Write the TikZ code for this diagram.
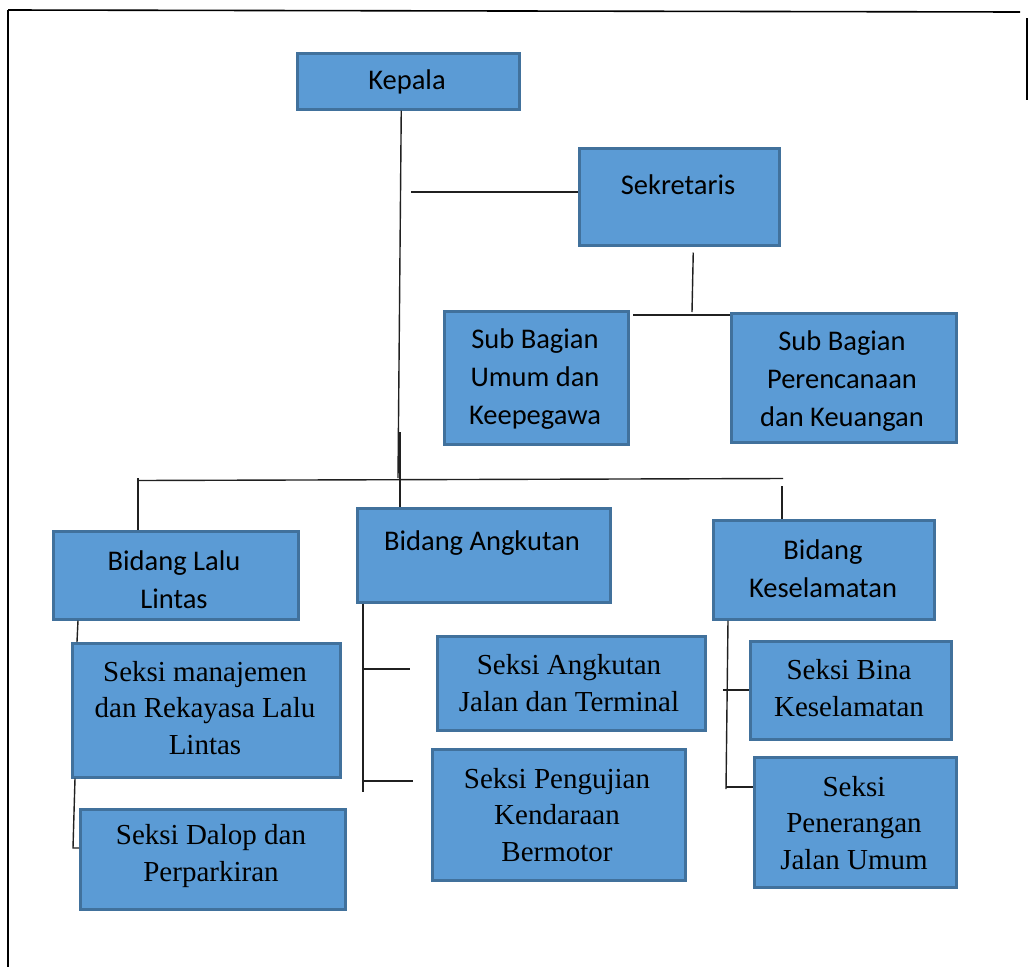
\documentclass[tikz,border=0pt]{standalone}
\usepackage{fontspec}
\newfontfamily\calib{Carlito}
\newfontfamily\tnr{Liberation Serif}
\definecolor{boxfill}{HTML}{5B9BD5}
\definecolor{boxline}{HTML}{41719C}
\definecolor{linecol}{HTML}{202020}
\begin{document}
\begin{tikzpicture}[x=1pt,y=-1pt,
  box/.style={draw=boxline, fill=boxfill, line width=2.5pt, inner sep=0pt, anchor=north west},
  sanstxt/.style={font=\calib\fontsize{28.5}{38}\selectfont, align=center, inner sep=0pt},
  seriftxt/.style={font=\tnr\fontsize{29}{36.5}\selectfont, align=center, inner sep=0pt},
  conn/.style={draw=linecol, line width=1.4pt},
  framel/.style={draw=black, line width=1.6pt}]
\useasboundingbox (0,0) rectangle (1030,967);

% frame
\coordinate (f1) at (8,10);
\coordinate (f2) at (1020,12);
\coordinate (f3) at (8,967);
\coordinate (f4) at (1027,18);
\coordinate (f5) at (1027,100);
\draw[framel] (f1) -- (f2);
\draw[framel, line width=1.2pt] (f1) -- (f3);
\draw[framel, line width=1.2pt] (f4) -- (f5);

% boxes
\node[box, minimum width=222pt, minimum height=56pt] (kepala) at (296,52) {};
\node[box, minimum width=200pt, minimum height=97pt] (sek) at (578,147) {};
\node[box, minimum width=184pt, minimum height=133pt] (sbu) at (443,310) {};
\node[box, minimum width=225pt, minimum height=129pt] (sbp) at (730,312) {};
\node[box, minimum width=245pt, minimum height=88pt] (bll) at (52,530) {};
\node[box, minimum width=253pt, minimum height=94pt] (ba) at (356,507) {};
\node[box, minimum width=221pt, minimum height=99pt] (bk) at (712,519) {};
\node[box, minimum width=268pt, minimum height=134pt] (smr) at (71,642) {};
\node[box, minimum width=265pt, minimum height=100pt] (sdp) at (79,808) {};
\node[box, minimum width=268pt, minimum height=94pt] (saj) at (436,635) {};
\node[box, minimum width=253pt, minimum height=131pt] (spk) at (431,748) {};
\node[box, minimum width=201pt, minimum height=98pt] (sbk) at (749,640) {};
\node[box, minimum width=202pt, minimum height=130pt] (spj) at (753,756) {};

% texts
\node[sanstxt] (kepala-t) at (407,82) {Kepala};
\node[sanstxt] (sek-t) at (678,185) {Sekretaris};
\node[sanstxt] (sbu-t) at (535,379) {Sub Bagian\\Umum dan\\Keepegawa};
\node[sanstxt] (sbp-t) at (842,381) {Sub Bagian\\Perencanaan\\dan Keuangan};
\node[sanstxt] (bll-t) at (174,580) {Bidang Lalu\\Lintas};
\node[sanstxt] (ba-t) at (482,543) {Bidang Angkutan};
\node[sanstxt] (bk-t) at (823,569) {Bidang\\Keselamatan};
\node[seriftxt] (smr-t) at (205,708) {Seksi manajemen\\dan Rekayasa Lalu\\Lintas};
\node[seriftxt] (sdp-t) at (211,856) {Seksi Dalop dan\\Perparkiran};
\node[seriftxt] (saj-t) at (569,683) {Seksi Angkutan\\Jalan dan Terminal};
\node[seriftxt] (spk-t) at (557,815) {Seksi Pengujian\\Kendaraan\\Bermotor};
\node[seriftxt] (sbk-t) at (849,688) {Seksi Bina\\Keselamatan};
\node[seriftxt] (spj-t) at (854,823) {Seksi\\Penerangan\\Jalan Umum};

% connectors: top part
\coordinate (kbot) at (398,478);
\draw[conn] ([xshift=-7pt]kepala.south) -- (kbot);
\coordinate (sl) at (411,192);
\draw[conn] (sl) -- (sek.west |- sl);
\coordinate (sd) at (692,312);
\draw[conn] ([shift={(14,6)}]sek.south) -- (sd);
\coordinate (sh) at (633,315);
\draw[conn] (sh) -- (sbp.west |- sh);

% main horizontal
\coordinate (hl) at (137,480.5);
\coordinate (hr) at (783,478.5);
\draw[conn] (hl) -- (hr);
\coordinate (bt) at (400,432);
\draw[conn] (bt) -- (ba.north -| bt);
\coordinate (lt) at (138,478);
\draw[conn] (lt) -- (bll.north -| lt);
\coordinate (rt) at (782,486);
\draw[conn] (rt) -- (bk.north -| rt);

% Bidang Lalu Lintas chain
\coordinate (c1) at (78,0);
\coordinate (c1b) at (77,0);
\draw[conn] (bll.south -| c1) -- (smr.north -| c1b);
\coordinate (c2) at (75,0);
\coordinate (c3) at (73,848);
\draw[conn] (smr.south -| c2) -- (c3) -- (c3 -| sdp.west);

% Bidang Angkutan chain
\coordinate (v1) at (363,0);
\coordinate (v1b) at (363,792);
\draw[conn] (ba.south -| v1) -- (v1b);
\coordinate (h1) at (363,669);
\coordinate (h1e) at (410,669);
\draw[conn] (h1) -- (h1e);
\coordinate (h2) at (363,781);
\coordinate (h2e) at (413,781);
\draw[conn] (h2) -- (h2e);

% Bidang Keselamatan chain
\coordinate (k1) at (728,0);
\coordinate (kb) at (726,789);
\draw[conn] (bk.south -| k1) -- (kb);
\coordinate (k2) at (723,690);
\draw[conn] (k2) -- (k2 -| sbk.west);
\coordinate (k3) at (726,787);
\draw[conn] (k3) -- (k3 -| spj.west);
\end{tikzpicture}
\end{document}
